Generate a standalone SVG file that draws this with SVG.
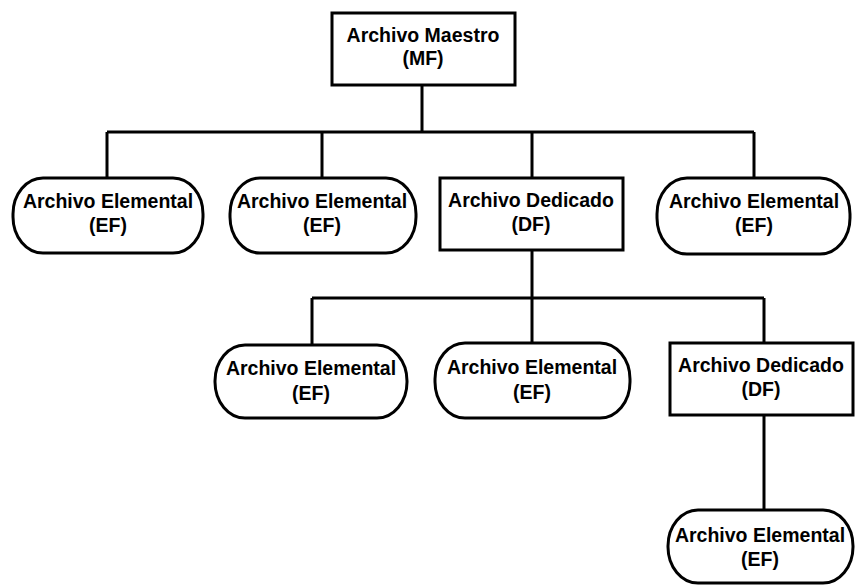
<svg xmlns="http://www.w3.org/2000/svg" width="855" height="585" viewBox="0 0 855 585">
<style>
  .box { fill: #ffffff; stroke: #000000; stroke-width: 3; }
  .pill { fill: #ffffff; stroke: #000000; stroke-width: 3; }
  .conn { fill: none; stroke: #000000; stroke-width: 3; }
  text { font-family: "Liberation Sans", Arial, sans-serif; font-weight: bold; font-size: 19.5px; fill: #000000; text-anchor: middle; }
</style>
<rect width="855" height="585" fill="#ffffff"/>
<g id="connectors">
  <path class="conn" d="M422 85 V132 M107 132 H754 M107 132 V178 M322 132 V178 M532 132 V178 M754 132 V178"/>
  <path class="conn" d="M532 250 V298 M312 298 H764 M312 298 V345 M532 298 V343 M764 298 V343"/>
  <path class="conn" d="M764 415 V510"/>
</g>
<g id="mf">
  <rect class="box" x="332" y="13" width="183" height="72"/>
  <text x="423" y="42">Archivo Maestro</text>
  <text x="423" y="65">(MF)</text>
</g>
<g id="ef1">
  <rect class="pill" x="13" y="178" width="190" height="75" rx="30" ry="36"/>
  <text x="108" y="208">Archivo Elemental</text>
  <text x="108" y="232">(EF)</text>
</g>
<g id="ef2">
  <rect class="pill" x="230" y="178" width="186" height="75" rx="30" ry="36"/>
  <text x="322" y="208">Archivo Elemental</text>
  <text x="322" y="232">(EF)</text>
</g>
<g id="df1">
  <rect class="box" x="440" y="178" width="183" height="72"/>
  <text x="531" y="207">Archivo Dedicado</text>
  <text x="531" y="231">(DF)</text>
</g>
<g id="ef3">
  <rect class="pill" x="657" y="178" width="193" height="76" rx="30" ry="36"/>
  <text x="754" y="208">Archivo Elemental</text>
  <text x="754" y="232">(EF)</text>
</g>
<g id="ef4">
  <rect class="pill" x="215" y="345" width="192" height="73" rx="30" ry="36"/>
  <text x="311" y="375">Archivo Elemental</text>
  <text x="311" y="400">(EF)</text>
</g>
<g id="ef5">
  <rect class="pill" x="435" y="343" width="195" height="75" rx="30" ry="36"/>
  <text x="532" y="374">Archivo Elemental</text>
  <text x="532" y="399">(EF)</text>
</g>
<g id="df2">
  <rect class="box" x="670" y="343" width="183" height="72"/>
  <text x="761" y="372">Archivo Dedicado</text>
  <text x="761" y="396">(DF)</text>
</g>
<g id="ef6">
  <rect class="pill" x="668" y="510" width="185" height="73" rx="30" ry="36"/>
  <text x="760" y="542">Archivo Elemental</text>
  <text x="760" y="566">(EF)</text>
</g>
</svg>
